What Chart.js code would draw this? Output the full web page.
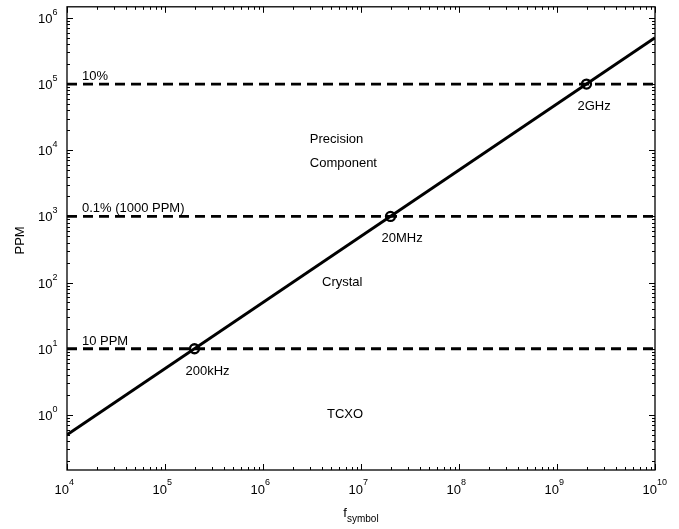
<!DOCTYPE html>
<html>
<head>
<meta charset="utf-8">
<script src="https://cdn.jsdelivr.net/npm/chart.js@4/dist/chart.umd.min.js"></script>
<style>
  html, body { margin: 0; padding: 0; background: #fff; }
  #wrap { width: 679px; height: 529px; }
</style>
</head>
<body>
<div id="wrap"><canvas id="chart" width="679" height="529"></canvas></div>
<script>
// axis ranges
const freqRange = [1e4, 1e10]
const ppmRange = [0.147, 1.47e6]

// PPM needed vs symbol frequency (straight line on log-log)
const lineFreqs = [1e4, 1e10]
const linePpm = [0.5, 5e5]

// crossing points
const markerFreqs = [2e5, 2e7, 2e9]
const markerPpm = [10, 1000, 1e5]
const markerLabels = ['200kHz', '20MHz', '2GHz']

// horizontal limits
const limitPpm = [10, 1000, 1e5]
const limitLabels = ['10 PPM', '0.1% (1000 PPM)', '10%']

// tick exponents
const xExponents = [4, 5, 6, 7, 8, 9, 10]
const yExponents = [0, 1, 2, 3, 4, 5, 6]

// region names, anchored in data coordinates
const regionNames = ['Precision', 'Component', 'Crystal', 'TCXO']
const regionFreqs = [3e6, 3e6, 4e6, 4.5e6]
const regionPpm = [1.45e4, 6.4e3, 100, 1]

const FONT = '"Liberation Sans", Arial, Helvetica, sans-serif'

const datasets = []

datasets.push({
  data: lineFreqs.map((f, i) => ({ x: f, y: linePpm[i] })),
  showLine: true,
  borderColor: '#000',
  borderWidth: 3,
  pointRadius: 0,
})

limitPpm.forEach((p) => {
  datasets.push({
    data: [{ x: freqRange[0], y: p }, { x: freqRange[1], y: p }],
    showLine: true,
    borderColor: '#000',
    borderWidth: 2.8,
    borderDash: [10, 6],
    pointRadius: 0,
  })
})

datasets.push({
  data: markerFreqs.map((f, i) => ({ x: f, y: markerPpm[i] })),
  showLine: false,
  pointStyle: 'circle',
  pointRadius: 4.5,
  pointBorderWidth: 2.3,
  pointBorderColor: '#000',
  pointBackgroundColor: 'rgba(0,0,0,0)',
})

function minorTicks(min, max) {
  const out = []
  for (let e = Math.floor(Math.log10(min)); e <= Math.ceil(Math.log10(max)); e++) {
    for (let m = 1; m <= 9; m++) {
      const v = m * Math.pow(10, e)
      if (v >= min * 0.999 && v <= max * 1.001) out.push({ v, major: m === 1 })
    }
  }
  return out
}

const frame = {
  id: 'frame',
  afterDraw(chart) {
    const ctx = chart.ctx
    const { left, right, top, bottom } = chart.chartArea
    const xs = chart.scales.x
    const ys = chart.scales.y
    ctx.save()

    // box
    ctx.strokeStyle = '#000'
    ctx.lineWidth = 1.3
    ctx.strokeRect(left, top, right - left, bottom - top)

    // inward ticks on all sides
    ctx.lineWidth = 1
    ctx.beginPath()
    minorTicks(freqRange[0], freqRange[1]).forEach((t) => {
      const px = Math.round(xs.getPixelForValue(t.v)) + 0.5
      const len = t.major ? 6 : 3
      ctx.moveTo(px, bottom); ctx.lineTo(px, bottom - len)
      ctx.moveTo(px, top); ctx.lineTo(px, top + len)
    })
    minorTicks(ppmRange[0], ppmRange[1]).forEach((t) => {
      const py = Math.round(ys.getPixelForValue(t.v)) + 0.5
      const len = t.major ? 6 : 3
      ctx.moveTo(left, py); ctx.lineTo(left + len, py)
      ctx.moveTo(right, py); ctx.lineTo(right - len, py)
    })
    ctx.stroke()

    ctx.fillStyle = '#000'

    // x tick labels
    xExponents.forEach((e) => {
      const px = xs.getPixelForValue(Math.pow(10, e))
      ctx.font = `13px ${FONT}`
      ctx.textAlign = 'right'
      ctx.textBaseline = 'alphabetic'
      ctx.fillText('10', px + 2, bottom + 24)
      ctx.font = `9px ${FONT}`
      ctx.textAlign = 'left'
      ctx.fillText(String(e), px + 2, bottom + 15)
    })

    // y tick labels
    yExponents.forEach((e) => {
      const py = ys.getPixelForValue(Math.pow(10, e))
      ctx.font = `13px ${FONT}`
      ctx.textAlign = 'left'
      ctx.textBaseline = 'alphabetic'
      ctx.fillText('10', 38, py + 5)
      const w = ctx.measureText('10').width
      ctx.font = `9px ${FONT}`
      ctx.fillText(String(e), 38 + w, py - 3)
    })

    // axis titles
    ctx.font = `13px ${FONT}`
    ctx.save()
    ctx.translate(24, (top + bottom) / 2 + 2)
    ctx.rotate(-Math.PI / 2)
    ctx.textAlign = 'center'
    ctx.textBaseline = 'alphabetic'
    ctx.fillText('PPM', 0, 0)
    ctx.restore()

    ctx.font = `13px ${FONT}`
    const fW = ctx.measureText('f').width
    ctx.font = `10px ${FONT}`
    const sW = ctx.measureText('symbol').width
    const cx = (left + right) / 2
    const x0 = cx - (fW + sW) / 2
    ctx.textAlign = 'left'
    ctx.font = `13px ${FONT}`
    ctx.fillText('f', x0, 517)
    ctx.font = `10px ${FONT}`
    ctx.fillText('symbol', x0 + fW, 522)

    // limit labels
    ctx.font = `13px ${FONT}`
    ctx.textBaseline = 'alphabetic'
    limitPpm.forEach((p, i) => {
      const py = ys.getPixelForValue(p)
      ctx.fillText(limitLabels[i], xs.getPixelForValue(1.42e4), py - 4)
    })

    // crossing labels
    markerFreqs.forEach((f, i) => {
      const px = xs.getPixelForValue(f)
      const py = ys.getPixelForValue(markerPpm[i])
      ctx.textBaseline = 'top'
      ctx.fillText(markerLabels[i], px - 9, py + 16)
    })

    // region names
    ctx.textBaseline = 'middle'
    regionNames.forEach((name, i) => {
      ctx.fillText(name, xs.getPixelForValue(regionFreqs[i]), ys.getPixelForValue(regionPpm[i]))
    })

    ctx.restore()
  },
}

new Chart(document.getElementById('chart'), {
  type: 'scatter',
  data: { datasets },
  options: {
    responsive: false,
    animation: false,
    layout: { padding: { left: 67, right: 24, top: 5, bottom: 59 } },
    plugins: { legend: { display: false }, tooltip: { enabled: false } },
    scales: {
      x: { type: 'logarithmic', min: freqRange[0], max: freqRange[1], display: false },
      y: { type: 'logarithmic', min: ppmRange[0], max: ppmRange[1], display: false },
    },
  },
  plugins: [frame],
})
</script>
</body>
</html>
